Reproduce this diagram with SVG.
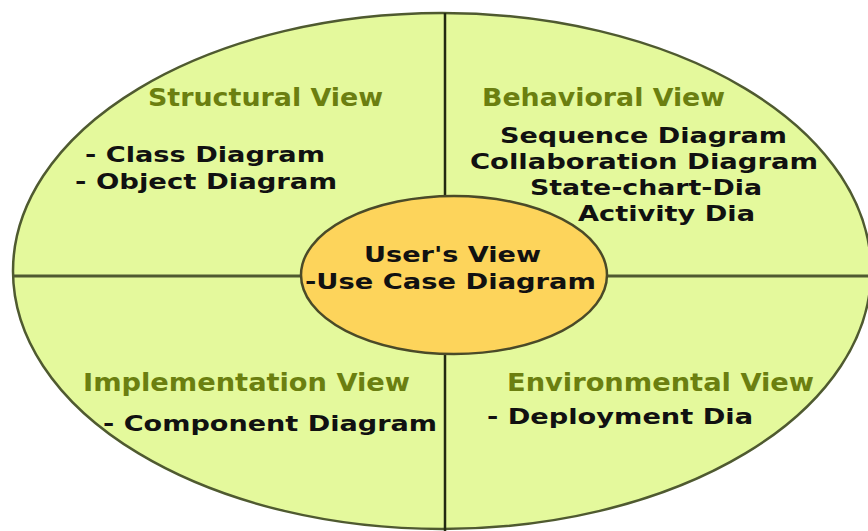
<svg xmlns="http://www.w3.org/2000/svg" width="868" height="531" viewBox="0 0 868 531">
<style>
.big{fill:#e4f99c;stroke:#4f5a30;stroke-width:2.5}
.ln{stroke:#222a10;stroke-width:2.5;fill:none}
.hl{stroke:#4f5a30;stroke-width:3;fill:none}
.inner{fill:#fdd45b;stroke:#4a4a28;stroke-width:2.5}
.h{font-family:"DejaVu Sans Condensed","DejaVu Sans",sans-serif;font-weight:bold;font-size:25px;fill:#6b7f10}
.t{font-family:"DejaVu Sans Condensed","DejaVu Sans",sans-serif;font-weight:bold;font-size:22px;fill:#111}
</style>
<rect width="868" height="531" fill="#ffffff"/>
<g id="outer">
<ellipse class="big" cx="442" cy="271" rx="429" ry="258"/>
</g>
<g id="connectors">
<line class="ln" x1="445" y1="13" x2="445" y2="531"/>
<line class="hl" x1="13" y1="276" x2="868" y2="276"/>
</g>
<g id="structural">
<text class="h" x="148" y="106" textLength="235" lengthAdjust="spacingAndGlyphs">Structural View</text>
<text class="t" x="85" y="162" textLength="240" lengthAdjust="spacingAndGlyphs">- Class Diagram</text>
<text class="t" x="75" y="189" textLength="262" lengthAdjust="spacingAndGlyphs">- Object Diagram</text>
</g>
<g id="behavioral">
<text class="h" x="482" y="106" textLength="243" lengthAdjust="spacingAndGlyphs">Behavioral View</text>
<text class="t" x="500" y="143" textLength="287" lengthAdjust="spacingAndGlyphs">Sequence Diagram</text>
<text class="t" x="470" y="169" textLength="348" lengthAdjust="spacingAndGlyphs">Collaboration Diagram</text>
<text class="t" x="530" y="195" textLength="232" lengthAdjust="spacingAndGlyphs">State-chart-Dia</text>
<text class="t" x="578" y="221" textLength="177" lengthAdjust="spacingAndGlyphs">Activity Dia</text>
</g>
<g id="implementation">
<text class="h" x="83" y="391" textLength="327" lengthAdjust="spacingAndGlyphs">Implementation View</text>
<text class="t" x="103" y="431" textLength="334" lengthAdjust="spacingAndGlyphs">- Component Diagram</text>
</g>
<g id="environmental">
<text class="h" x="507" y="391" textLength="307" lengthAdjust="spacingAndGlyphs">Environmental View</text>
<text class="t" x="487" y="424" textLength="266" lengthAdjust="spacingAndGlyphs">- Deployment Dia</text>
</g>
<g id="users">
<ellipse class="inner" cx="454" cy="275" rx="153" ry="79"/>
<text class="t" x="364" y="262" textLength="177" lengthAdjust="spacingAndGlyphs">User's View</text>
<text class="t" x="305" y="289" textLength="291" lengthAdjust="spacingAndGlyphs">-Use Case Diagram</text>
</g>
</svg>
